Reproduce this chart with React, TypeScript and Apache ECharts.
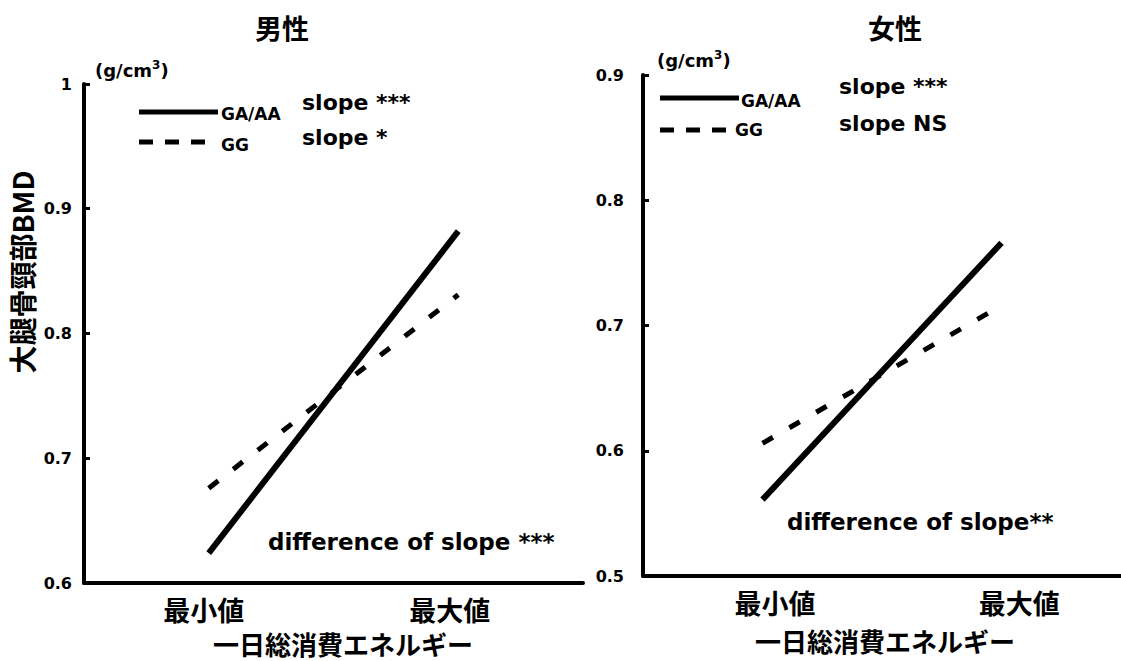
import React, { useEffect, useRef } from 'react';
import * as echarts from 'echarts';

// ---- data ----
const categories = ['最小値', '最大値'];
const maleGAAA = [0.624, 0.882];
const maleGG = [0.676, 0.831];
const femaleGAAA = [0.561, 0.766];
const femaleGG = [0.606, 0.716];
const maleYRange = [0.6, 1.0];
const femaleYRange = [0.5, 0.9];
const yInterval = 0.1;
const panelTitles = ['男性', '女性'];
const legendNames = ['GA/AA', 'GG'];
const maleSlopeNotes = ['slope ***', 'slope *'];
const femaleSlopeNotes = ['slope ***', 'slope NS'];
const diffNotes = ['difference of slope ***', 'difference of slope**'];
const xAxisTitle = '一日総消費エネルギー';
const yAxisTitle = '大腿骨頸部BMD';

const CJK = '"Noto Sans CJK JP", sans-serif';
const LAT = '"DejaVu Sans", sans-serif';

function buildOption() {
  const grids = [
    { left: 84, top: 84, width: 499, height: 499 },
    { left: 643, top: 75, width: 478, height: 501 },
  ];
  const labelPos = [
    [0.24, 0.733],
    [0.276, 0.787],
  ];
  const ranges = [maleYRange, femaleYRange];
  const axisLine = { show: true, lineStyle: { color: '#000', width: 4 } };

  const xAxis: any[] = [];
  grids.forEach((_, i) => {
    xAxis.push({
      type: 'value',
      gridIndex: i,
      min: 0,
      max: 1,
      axisLine,
      axisTick: { show: false },
      splitLine: { show: false },
      axisLabel: {
        customValues: labelPos[i],
        formatter: (v: number) => {
          const idx = Math.abs(v - labelPos[i][0]) < Math.abs(v - labelPos[i][1]) ? 0 : 1;
          return categories[idx];
        },
        color: '#000',
        fontFamily: CJK,
        fontWeight: 'bold',
        fontSize: 27,
        margin: 13,
      },
    });
  });
  grids.forEach((_, i) => {
    xAxis.push({
      type: 'category',
      gridIndex: i,
      data: categories,
      show: false,
      boundaryGap: true,
    });
  });

  const yAxis = grids.map((_, i) => ({
    type: 'value',
    gridIndex: i,
    min: ranges[i][0],
    max: ranges[i][1],
    interval: yInterval,
    axisLine,
    axisTick: { show: true, inside: true, length: 6, lineStyle: { color: '#000', width: 3 } },
    splitLine: { show: false },
    axisLabel: {
      formatter: (v: number) => (Math.abs(v - 1) < 1e-9 ? '1' : v.toFixed(1)),
      color: '#000',
      fontFamily: LAT,
      fontWeight: 'bold',
      fontSize: 16,
      margin: i === 0 ? 12 : 19,
    },
  }));

  const solid = { color: '#000', width: 6, type: 'solid' as const };
  const dashed = { color: '#000', width: 5, type: [12, 19] as any };

  const series = [
    { name: 'male GA/AA', data: maleGAAA, xAxisIndex: 2, yAxisIndex: 0, lineStyle: solid },
    { name: 'male GG', data: maleGG, xAxisIndex: 2, yAxisIndex: 0, lineStyle: dashed },
    { name: 'female GA/AA', data: femaleGAAA, xAxisIndex: 3, yAxisIndex: 1, lineStyle: solid },
    { name: 'female GG', data: femaleGG, xAxisIndex: 3, yAxisIndex: 1, lineStyle: dashed },
  ].map((s) => ({
    ...s,
    type: 'line',
    showSymbol: false,
    symbol: 'none',
    silent: true,
  }));

  const txt = (text: string, x: number, y: number, size: number, font: string, extra: any = {}) => ({
    type: 'text',
    x,
    y,
    silent: true,
    style: {
      text,
      fill: '#000',
      fontSize: size,
      fontFamily: font,
      fontWeight: 'bold',
      align: 'left',
      verticalAlign: 'middle',
      ...extra,
    },
  });
  const unit = (x: number, y: number) => ({
    type: 'text',
    x,
    y,
    silent: true,
    style: {
      text: '{a|(g/cm}{s|3}{a|)}',
      fill: '#000',
      verticalAlign: 'middle',
      rich: {
        a: { fontSize: 18, fontFamily: LAT, fontWeight: 'bold', fill: '#000' },
        s: { fontSize: 12, fontFamily: LAT, fontWeight: 'bold', fill: '#000', verticalAlign: 'top', padding: [0, 0, 10, 0] },
      },
    },
  });
  const line = (x1: number, y1: number, x2: number, y2: number, dash?: number[]) => ({
    type: 'line',
    silent: true,
    shape: { x1, y1, x2, y2 },
    style: { stroke: '#000', lineWidth: 5, lineDash: dash },
  });

  const graphic: any[] = [
    txt(panelTitles[0], 282, 27, 27, CJK, { align: 'center' }),
    txt(panelTitles[1], 895, 27, 27, CJK, { align: 'center' }),
    {
      type: 'text',
      x: 22,
      y: 272,
      rotation: Math.PI / 2,
      silent: true,
      style: {
        text: yAxisTitle,
        fill: '#000',
        fontSize: 28,
        fontFamily: CJK,
        fontWeight: 'bold',
        align: 'center',
        verticalAlign: 'middle',
      },
    },
    unit(95, 70),
    unit(657, 60),
    // left legend
    line(139, 112, 218, 112),
    txt(legendNames[0], 221, 114, 17, LAT),
    line(139, 142, 209, 142, [14, 12]),
    txt(legendNames[1], 221, 145, 17, LAT),
    txt(maleSlopeNotes[0], 302, 102, 22, LAT),
    txt(maleSlopeNotes[1], 302, 137, 22, LAT),
    // right legend
    line(660, 98, 739, 98),
    txt(legendNames[0], 741, 101, 17, LAT),
    line(660, 130, 728, 130, [14, 12]),
    txt(legendNames[1], 735, 130, 17, LAT),
    txt(femaleSlopeNotes[0], 839, 86, 22, LAT),
    txt(femaleSlopeNotes[1], 839, 123, 22, LAT),
    // diff notes
    txt(diffNotes[0], 268, 542, 23, LAT),
    txt(diffNotes[1], 787, 522, 23, LAT),
    // x axis titles
    txt(xAxisTitle, 343, 643, 26, CJK, { align: 'center' }),
    txt(xAxisTitle, 885, 640, 26, CJK, { align: 'center' }),
  ];

  return {
    animation: false,
    backgroundColor: '#fff',
    grid: grids,
    xAxis,
    yAxis,
    series,
    graphic,
  };
}

export default function App() {
  const ref = useRef<HTMLDivElement>(null);
  useEffect(() => {
    if (!ref.current) return;
    const chart = echarts.init(ref.current, undefined, { renderer: 'svg' });
    chart.setOption(buildOption() as any);
    return () => chart.dispose();
  }, []);
  return (
    <div
      ref={ref}
      style={{ position: 'fixed', left: 0, top: 0, width: 1121, height: 661, background: '#fff' }}
    />
  );
}
